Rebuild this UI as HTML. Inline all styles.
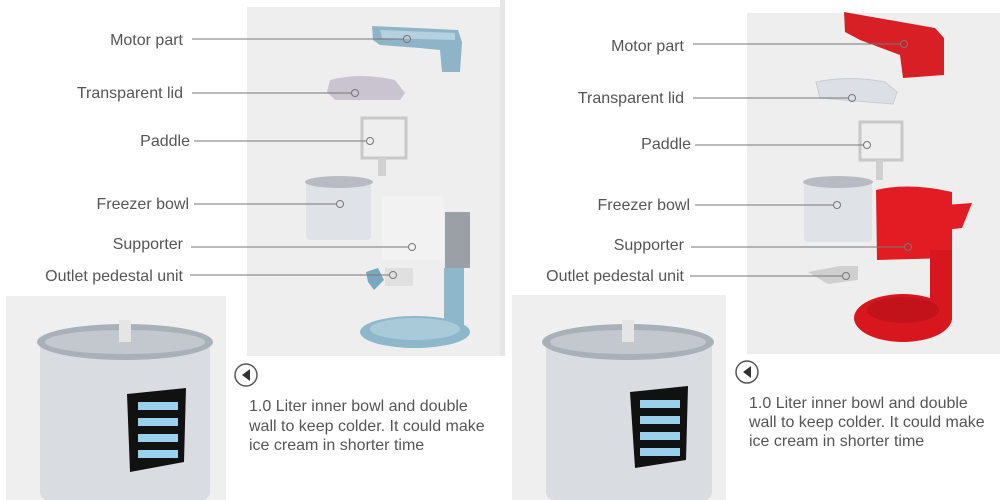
<!DOCTYPE html>
<html><head><style>
html,body{margin:0;padding:0;background:#fff;}
svg{display:block}
text{font-family:"Liberation Sans",sans-serif;fill:#555;}
</style></head><body>
<svg width="1000" height="500" viewBox="0 0 1000 500">
<rect width="1000" height="500" fill="#fff"/>
<rect x="247" y="7" width="253" height="349" fill="#eeeeee"/>
<rect x="500" y="0" width="5" height="356" fill="#e6e6e6"/>
<rect x="747" y="13" width="253" height="341" fill="#eeeeee"/>
<rect x="6" y="296" width="220" height="204" fill="#efefef"/>
<rect x="512" y="295" width="214" height="205" fill="#efefef"/>

<g>
 <path d="M372 26 L458 30 L462 42 L460 72 L442 72 L440 50 L420 48 L380 45 L373 40 Z" fill="#8fb4c8"/>
 <path d="M380 30 L455 33 L455 40 L382 38 Z" fill="#b5d0de"/>
 <path d="M330 80 Q360 72 395 80 L405 93 L400 100 L335 100 L327 92 Z" fill="#c9c4cf"/>
 <rect x="362" y="118" width="44" height="40" fill="none" stroke="#c8c8c8" stroke-width="3"/>
 <rect x="378" y="158" width="8" height="18" fill="#d0d0d0"/>
 <rect x="306" y="180" width="65" height="60" rx="4" fill="#dfe3e8"/>
 <ellipse cx="339" cy="182" rx="34" ry="6" fill="#b8bcc2"/>
 <rect x="445" y="212" width="25" height="56" fill="#9aa0a6"/>
 <rect x="382" y="196" width="62" height="64" rx="4" fill="#f2f2f2"/>
 <rect x="444" y="268" width="20" height="62" fill="#8fb7cc"/>
 <ellipse cx="415" cy="332" rx="55" ry="16" fill="#8fb7cc"/>
 <ellipse cx="415" cy="329" rx="45" ry="11" fill="#a9cad9"/>
 <path d="M366 272 L378 268 L384 280 L374 290 L368 282 Z" fill="#7aa7c0"/>
 <rect x="385" y="268" width="28" height="18" fill="#e0e0e0"/>
</g>
<g>
 <path d="M844 12 L935 28 L944 38 L944 75 L903 78 L900 55 L860 40 L845 32 Z" fill="#d81f26"/>
 <path d="M816 82 Q850 75 885 82 L897 92 L893 104 L820 98 Z" fill="#dcdfe6" stroke="#c8ccd4"/>
 <rect x="860" y="122" width="42" height="38" fill="none" stroke="#c8c8c8" stroke-width="3"/>
 <rect x="876" y="160" width="7" height="20" fill="#d0d0d0"/>
 <rect x="804" y="180" width="68" height="62" rx="4" fill="#dfe3e8"/>
 <ellipse cx="838" cy="182" rx="35" ry="6" fill="#b8bcc2"/>
 <path d="M876 190 Q910 182 952 192 L952 258 L877 260 Z" fill="#e31b23"/>
 <path d="M945 205 L972 203 L962 228 L945 230 Z" fill="#e31b23"/>
 <rect x="930" y="250" width="22" height="70" fill="#d8161e"/>
 <ellipse cx="903" cy="318" rx="49" ry="24" fill="#d8161e"/>
 <ellipse cx="903" cy="310" rx="36" ry="13" fill="#c3131a"/>
 <path d="M808 272 L840 266 L858 266 L858 280 L828 284 Z" fill="#cfcfcf"/>
</g>

<g>
 <rect x="40" y="340" width="170" height="160" rx="8" fill="#d9dce1"/>
 <ellipse cx="125" cy="342" rx="88" ry="18" fill="#aab0b8"/>
 <ellipse cx="125" cy="342" rx="80" ry="12" fill="#c3c8ce"/>
 <rect x="119" y="320" width="12" height="22" fill="#e5e5e5"/>
 <path d="M127 394 L186 388 L184 462 L130 472 Z" fill="#111"/>
 <g fill="#9bd0ec"><rect x="138" y="402" width="40" height="8"/><rect x="138" y="418" width="40" height="8"/><rect x="138" y="434" width="40" height="8"/><rect x="138" y="450" width="40" height="8"/></g>
 <rect x="546" y="340" width="166" height="160" rx="8" fill="#d9dce1"/>
 <ellipse cx="628" cy="342" rx="86" ry="18" fill="#aab0b8"/>
 <ellipse cx="628" cy="342" rx="78" ry="12" fill="#c3c8ce"/>
 <rect x="622" y="320" width="12" height="22" fill="#e5e5e5"/>
 <path d="M630 392 L688 386 L686 460 L635 468 Z" fill="#111"/>
 <g fill="#9bd0ec"><rect x="640" y="400" width="40" height="8"/><rect x="640" y="416" width="40" height="8"/><rect x="640" y="432" width="40" height="8"/><rect x="640" y="448" width="40" height="8"/></g>
</g>

<g stroke="#777" stroke-width="1" fill="none">
 <line x1="192" y1="39" x2="404" y2="39"/><circle cx="407" cy="39" r="3.5"/>
 <line x1="192" y1="93" x2="352" y2="93"/><circle cx="355" cy="93" r="3.5"/>
 <line x1="194" y1="141" x2="367" y2="141"/><circle cx="370" cy="141" r="3.5"/>
 <line x1="194" y1="204" x2="337" y2="204"/><circle cx="340" cy="204" r="3.5"/>
 <line x1="191" y1="247" x2="409" y2="247"/><circle cx="412" cy="247" r="3.5"/>
 <line x1="190" y1="275" x2="390" y2="275"/><circle cx="393" cy="275" r="3.5"/>
 <line x1="693" y1="44" x2="901" y2="44"/><circle cx="904" cy="44" r="3.5"/>
 <line x1="693" y1="98" x2="849" y2="98"/><circle cx="852" cy="98" r="3.5"/>
 <line x1="695" y1="145" x2="864" y2="145"/><circle cx="867" cy="145" r="3.5"/>
 <line x1="695" y1="205" x2="834" y2="205"/><circle cx="837" cy="205" r="3.5"/>
 <line x1="691" y1="247" x2="905" y2="247"/><circle cx="908" cy="247" r="3.5"/>
 <line x1="690" y1="276" x2="843" y2="276"/><circle cx="846" cy="276" r="3.5"/>
</g>
<g font-size="16" text-anchor="end">
 <text x="183" y="45">Motor part</text>
 <text x="183" y="98">Transparent lid</text>
 <text x="190" y="146">Paddle</text>
 <text x="189" y="209">Freezer bowl</text>
 <text x="183" y="249">Supporter</text>
 <text x="183" y="281">Outlet pedestal unit</text>
 <text x="684" y="51">Motor part</text>
 <text x="684" y="103">Transparent lid</text>
 <text x="691" y="149">Paddle</text>
 <text x="690" y="210">Freezer bowl</text>
 <text x="684" y="250">Supporter</text>
 <text x="684" y="281">Outlet pedestal unit</text>
</g>
<circle cx="246" cy="375" r="11" fill="#fff" stroke="#555" stroke-width="1.5"/>
<path d="M242 375 L250 369 L250 381 Z" fill="#333"/>
<circle cx="747" cy="372" r="11" fill="#fff" stroke="#555" stroke-width="1.5"/>
<path d="M743 372 L751 366 L751 378 Z" fill="#333"/>
<g font-size="16">
 <text x="249" y="411">1.0 Liter inner bowl and double</text>
 <text x="249" y="431">wall to keep colder. It could make</text>
 <text x="249" y="450">ice cream in shorter time</text>
 <text x="749" y="408">1.0 Liter inner bowl and double</text>
 <text x="749" y="427">wall to keep colder. It could make</text>
 <text x="749" y="446">ice cream in shorter time</text>
</g>
</svg>
</body></html>
